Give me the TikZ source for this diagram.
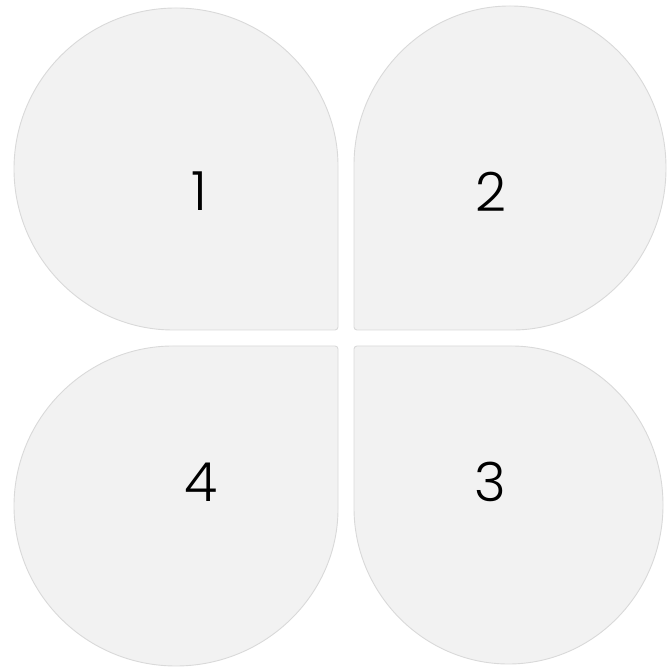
\documentclass[tikz,border=0pt]{standalone}
\usepackage{fontspec}
\setmainfont{Poppins}[UprightFont={* Light}]
\definecolor{petalfill}{HTML}{F2F2F2}
\definecolor{petaledge}{HTML}{D9D9D9}
\begin{document}
\begin{tikzpicture}[x=1pt,y=1pt,
  petal/.style={fill=petalfill,draw=petaledge,line width=0.9pt,rounded corners=3pt},
  num/.style={inner sep=0pt,font=\fontsize{54}{54}\selectfont,text=black}]
\useasboundingbox (0,0) rectangle (666,668);
% petal 1 (top-left)
\path[petal] (338,338) -- (338,499) arc[start angle=0,end angle=270,x radius=162,y radius=161] -- cycle;
% petal 2 (top-right)
\path[petal] (354,338) -- (354,500) arc[start angle=180,end angle=-90,x radius=156,y radius=162] -- cycle;
% petal 4 (bottom-left)
\path[petal] (338,322) -- (176,322) arc[start angle=90,end angle=360,x radius=162,y radius=160] -- cycle;
% petal 3 (bottom-right)
\path[petal] (354,322) -- (508.5,322) arc[start angle=90,end angle=-180,x radius=154.5,y radius=159] -- cycle;
\node[num] (n1) at (199,477) {1};
\node[num] (n2) at (491,476) {2};
\node[num] (n4) at (201,186) {4};
\node[num] (n3) at (490,186) {3};
\end{tikzpicture}
\end{document}
